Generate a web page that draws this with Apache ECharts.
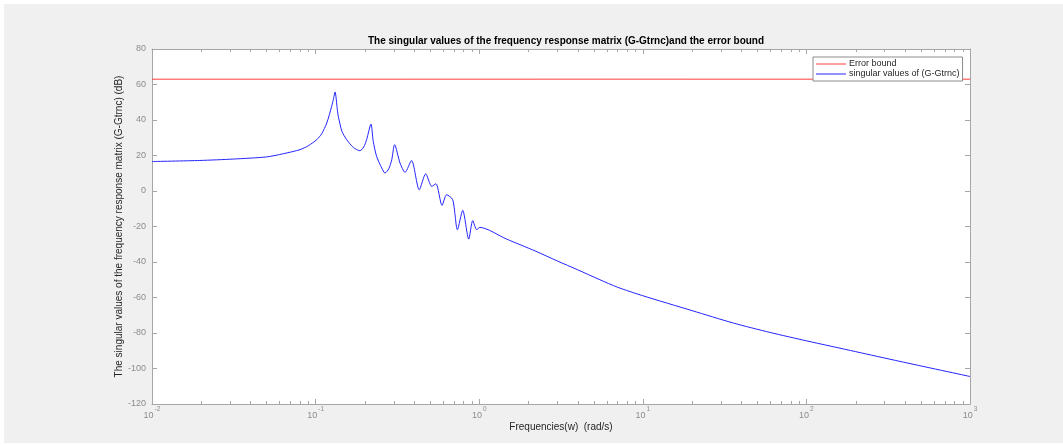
<!DOCTYPE html>
<html>
<head>
<meta charset="utf-8">
<script src="https://cdn.jsdelivr.net/npm/echarts@6/dist/echarts.min.js"></script>
<style>
html,body{margin:0;padding:0;background:#fff;}
#bg{position:absolute;left:4px;top:4px;width:1059px;height:439px;background:#f0f0f0;}
#chart{position:absolute;left:0;top:0;width:1063px;height:445px;}
</style>
</head>
<body>
<div id="bg"></div>
<div id="chart"></div>
<script>
// Frequencies (rad/s) and singular values (dB)
const freqs = [0.01, 0.0196, 0.0314, 0.0502, 0.0635, 0.0803, 0.0902, 0.1016, 0.109, 0.117, 0.1254, 0.1283, 0.1315, 0.1358, 0.1377, 0.145, 0.155, 0.17, 0.1866, 0.197, 0.205, 0.218, 0.225, 0.236, 0.2535, 0.2655, 0.28, 0.292, 0.304, 0.328, 0.352, 0.386, 0.43, 0.471, 0.513, 0.544, 0.593, 0.632, 0.689, 0.736, 0.793, 0.863, 0.913, 0.966, 1.01, 1.47, 2.2, 3.0, 4.0, 5.47, 7.0, 10, 20, 35.8, 60, 100, 200, 373, 1000];
const singularDb = [16.6, 17.2, 18.0, 19.2, 21.0, 23.3, 25.5, 28.9, 32.3, 38.3, 47.7, 51.4, 55.8, 45.8, 42.0, 33.5, 28.9, 24.5, 22.7, 24.8, 28.9, 37.7, 28.0, 19.5, 13.0, 10.1, 12.5, 17.6, 26.1, 15.8, 10.5, 17.2, 0.7, 9.7, 2.6, 4.1, -8.1, -2.1, -4.9, -21.8, -10.9, -27.1, -16.7, -21.8, -20.5, -27.1, -33.8, -39.4, -44.4, -50, -54.2, -59, -67.4, -74.4, -79.7, -84.4, -90.5, -96.0, -104.5];
const errorBoundFreqs = [0.01, 1000];
const errorBoundDb = [63, 63];
const minorTickValues = [];
[0.01, 0.1, 1, 10, 100].forEach(d => { for (let k = 2; k <= 9; k++) minorTickValues.push(+(d * k).toPrecision(3)); });
const titleText = 'The singular values of the frequency response matrix (G-Gtrnc)and the error bound';
const xName = 'Frequencies(w)  (rad/s)';
const yName = 'The singular values of the frequency response matrix (G-Gtrnc) (dB)';
const legendNames = ['Error bound', 'singular values of (G-Gtrnc)'];

const axisGray = '#a6a6a6';
const labelGray = '#8c8c8c';
const redColor = '#ff3c3c';
const blueColor = '#2424ff';
const font = 'Liberation Sans, Arial, sans-serif';

const chart = echarts.init(document.getElementById('chart'), null, {renderer: 'canvas'});
const logAxisBase = {
  type: 'log', logBase: 10, min: 0.01, max: 1000, splitNumber: 5,
  axisLine: {show: true, onZero: false, lineStyle: {color: axisGray, width: 1}},
  axisTick: {show: true, inside: true, length: 5, lineStyle: {color: axisGray}},
  splitLine: {show: false}, minorTick: {show: false}
};
const valAxisBase = {
  type: 'value', min: -120, max: 80, interval: 20,
  axisLine: {show: true, onZero: false, lineStyle: {color: axisGray, width: 1}},
  axisTick: {show: true, inside: true, length: 5, lineStyle: {color: axisGray}},
  splitLine: {show: false}
};
chart.setOption({
  animation: false,
  backgroundColor: 'transparent',
  textStyle: {fontFamily: font},
  title: {
    text: titleText, left: 561, top: 31, textAlign: 'center',
    textStyle: {fontSize: 10, fontWeight: 'bold', color: '#000', fontFamily: font}
  },
  legend: {
    data: [
      {name: legendNames[0], icon: 'rect', itemStyle: {color: redColor}},
      {name: legendNames[1], icon: 'rect', itemStyle: {color: blueColor}}
    ],
    orient: 'vertical', left: 813, top: 57, itemWidth: 30, itemHeight: 1, itemGap: 0,
    padding: [2, 3, 2, 3], backgroundColor: '#fff', borderColor: '#8c8c8c', borderWidth: 1,
    textStyle: {fontSize: 9, lineHeight: 10, color: '#262626', fontFamily: font, padding: [0, 0, 0, -2]}
  },
  grid: {left: 152, right: 93, top: 49, bottom: 41, show: true, backgroundColor: '#fff', borderColor: axisGray, borderWidth: 0},
  xAxis: [
    Object.assign({}, logAxisBase, {
      position: 'bottom', name: xName, nameLocation: 'middle', nameGap: 18, nameMoveOverlap: false,
      nameTextStyle: {fontSize: 10, color: '#262626', fontFamily: font},
      axisLabel: {
        margin: 2, color: labelGray,
        formatter: v => '{b|10}{s|' + Math.round(Math.log10(v)) + '}',
        rich: {
          b: {fontSize: 9, color: labelGray, fontFamily: font, lineHeight: 14, verticalAlign: 'bottom'},
          s: {fontSize: 6.5, color: labelGray, fontFamily: font, verticalAlign: 'top', lineHeight: 14, padding: [0, 0, 0, 1]}
        }
      }
    }),
    Object.assign({}, logAxisBase, {position: 'top', axisLabel: {show: false}})
  ],
  yAxis: [
    Object.assign({}, valAxisBase, {
      position: 'left', name: yName, nameLocation: 'middle', nameGap: 28, nameMoveOverlap: false,
      nameTextStyle: {fontSize: 10, color: '#262626', fontFamily: font},
      axisLabel: {margin: 6, color: labelGray, fontSize: 9, fontFamily: font}
    }),
    Object.assign({}, valAxisBase, {position: 'right', axisLabel: {show: false}})
  ],
  series: [
    {
      name: legendNames[0], type: 'line', xAxisIndex: 0, yAxisIndex: 0, symbol: 'none',
      lineStyle: {color: redColor, width: 1}, itemStyle: {color: redColor},
      data: errorBoundFreqs.map((f, i) => [f, errorBoundDb[i]]), z: 3
    },
    {
      name: legendNames[1], type: 'line', xAxisIndex: 0, yAxisIndex: 0, symbol: 'none',
      smooth: 0.25,
      lineStyle: {color: blueColor, width: 1}, itemStyle: {color: blueColor},
      data: freqs.map((f, i) => [f, singularDb[i]]), z: 3
    },
    {
      name: 'minor', type: 'custom', xAxisIndex: 0, yAxisIndex: 0, silent: true, z: 4,
      data: minorTickValues.map(v => [v]),
      renderItem: function (params, api) {
        const b = api.coord([api.value(0), -120]);
        const t = api.coord([api.value(0), 80]);
        const x = Math.round(b[0]) + 0.5;
        return {type: 'group', children: [
          {type: 'line', shape: {x1: x, y1: b[1], x2: x, y2: b[1] - 3}, style: {stroke: axisGray, lineWidth: 1}},
          {type: 'line', shape: {x1: x, y1: t[1], x2: x, y2: t[1] + 3}, style: {stroke: axisGray, lineWidth: 1}}
        ]};
      }
    }
  ]
});
</script>
</body>
</html>
